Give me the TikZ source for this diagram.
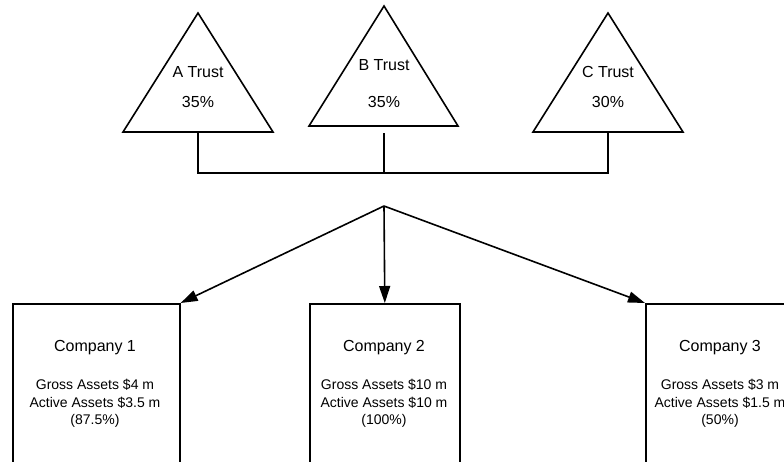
\documentclass[tikz,border=0pt]{standalone}
\usepackage{fontspec}
\setmainfont{Liberation Sans}
\usetikzlibrary{arrows.meta}
\begin{document}
\begin{tikzpicture}[x=1pt,y=-1pt,line width=1.6pt,line join=miter,
  trust/.style={draw,line join=miter},
  title/.style={font=\fontsize{16}{19}\selectfont,anchor=base,inner sep=0pt},
  detail/.style={font=\fontsize{14}{17}\selectfont,anchor=base,inner sep=0pt},
  company/.style={draw,rectangle,anchor=north west,inner sep=0pt,minimum height=190pt},
  link/.style={draw},
  feed/.style={draw,-{Triangle[length=17pt,width=11pt]}}]
\clip (0,0) rectangle (784,461);

% trusts
\coordinate (aTop) at (198,13);
\coordinate (aLeft) at (123,132);
\coordinate (aRight) at (273,132);
\coordinate (bTop) at (384,6);
\coordinate (bLeft) at (309,126);
\coordinate (bRight) at (458,126);
\coordinate (cTop) at (608,13);
\coordinate (cLeft) at (533,132);
\coordinate (cRight) at (683,132);
\draw[trust] (aTop) -- (aRight) -- (aLeft) -- cycle;
\draw[trust] (bTop) -- (bRight) -- (bLeft) -- cycle;
\draw[trust] (cTop) -- (cRight) -- (cLeft) -- cycle;
\node[title] (aName) at (198,77) {A Trust};
\node[title] (aShare) at (198,107) {35\%};
\node[title] (bName) at (384,70) {B Trust};
\node[title] (bShare) at (384,107) {35\%};
\node[title] (cName) at (608,77) {C Trust};
\node[title] (cShare) at (608,107) {30\%};

% ownership links
\coordinate (aFoot) at (198,132);
\coordinate (bFoot) at (384,133);
\coordinate (cFoot) at (608,132);
\coordinate (join) at (384,173);
\coordinate (hub) at (384,206);
\draw[link] (aFoot) |- (join) -| (cFoot);
\draw[link] (bFoot) -- (join);

% companies
\node[company,minimum width=167pt] (comp1) at (12,303) {};
\node[company,minimum width=150pt] (comp2) at (309,303) {};
\node[company,minimum width=150pt] (comp3) at (645,303) {};

\node[title] (c1Name) at (95,351) {Company 1};
\node[detail] (c1Gross) at (95,389) {Gross Assets \$4 m};
\node[detail] (c1Active) at (95,407) {Active Assets \$3.5 m};
\node[detail] (c1Share) at (95,424) {(87.5\%)};

\node[title] (c2Name) at (384,351) {Company 2};
\node[detail] (c2Gross) at (384,389) {Gross Assets \$10 m};
\node[detail] (c2Active) at (384,407) {Active Assets \$10 m};
\node[detail] (c2Share) at (384,424) {(100\%)};

\node[title] (c3Name) at (720,351) {Company 3};
\node[detail] (c3Gross) at (720,389) {Gross Assets \$3 m};
\node[detail] (c3Active) at (720,407) {Active Assets \$1.5 m};
\node[detail] (c3Share) at (720,424) {(50\%)};

% holdings
\draw[feed] (hub) -- (comp1.north east);
\draw[feed] (hub) -- (comp2.north);
\draw[feed] (hub) -- (comp3.north west);
\end{tikzpicture}
\end{document}
